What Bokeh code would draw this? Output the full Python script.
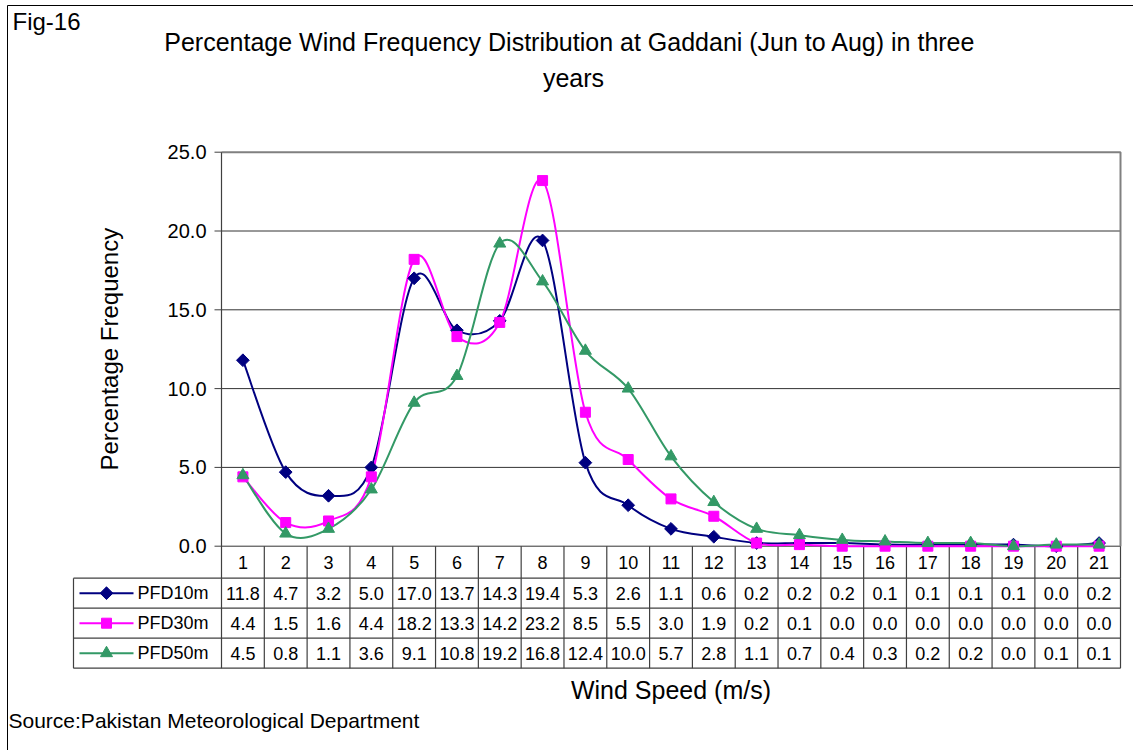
import math
from bokeh.plotting import figure
from bokeh.models import Range1d
from bokeh.core.properties import value
from bokeh.embed import file_html
from bokeh.resources import INLINE

# ---------------- data ----------------
speeds = list(range(1, 22))
speed_labels = [str(s) for s in speeds]
pfd10 = [11.8, 4.7, 3.2, 5.0, 17.0, 13.7, 14.3, 19.4, 5.3, 2.6, 1.1, 0.6, 0.2, 0.2, 0.2, 0.1, 0.1, 0.1, 0.1, 0.0, 0.2]
pfd30 = [4.4, 1.5, 1.6, 4.4, 18.2, 13.3, 14.2, 23.2, 8.5, 5.5, 3.0, 1.9, 0.2, 0.1, 0.0, 0.0, 0.0, 0.0, 0.0, 0.0, 0.0]
pfd50 = [4.5, 0.8, 1.1, 3.6, 9.1, 10.8, 19.2, 16.8, 12.4, 10.0, 5.7, 2.8, 1.1, 0.7, 0.4, 0.3, 0.2, 0.2, 0.0, 0.1, 0.1]
series_names = ["PFD10m", "PFD30m", "PFD50m"]
y_ticks = [0, 5, 10, 15, 20, 25]
y_tick_labels = ["%.1f" % t for t in y_ticks]

fig_label = "Fig-16"
title_line1 = "Percentage Wind Frequency Distribution at Gaddani (Jun  to Aug) in three"
title_line2 = "years"
y_title = "Percentage Frequency"
x_title = "Wind Speed (m/s)"
source_text = "Source:Pakistan Meteorological Department"

# ---------------- layout / styles ----------------
FONT = "Liberation Sans"
colors = ["#000080", "#FF00FF", "#339966"]
markers = ["square", "square", "triangle"]
angles = [math.pi / 4, 0, 0]
msizes = [9, 10, 12]
GRID = "#333333"
TABLE = "#404040"

W, H = 1133, 750
PLOT_L, PLOT_R = 221.0, 1120.0      # plot area, page px
PLOT_T, PLOT_B = 151.7, 545.7
PXU = (PLOT_R - PLOT_L) / len(speeds)
PYU = (PLOT_B - PLOT_T) / y_ticks[-1]
HEADER_B = 577.7
ROW_H = 30.0
LEG_L = 73.0


def X(px):
    return 0.5 + (px - PLOT_L) / PXU


def Y(py):
    return (PLOT_B - py) / PYU


x_lo, x_hi = 0.5, len(speeds) + 0.5

p = figure(width=W, height=H, x_range=Range1d(X(0), X(W)), y_range=Range1d(Y(H), Y(0)),
           x_axis_type=None, y_axis_type=None, title=None,
           output_backend="svg", toolbar_location=None,
           min_border_left=0, min_border_right=0, min_border_top=0, min_border_bottom=0)
p.outline_line_color = None
p.xgrid.visible = False
p.ygrid.visible = False
p.background_fill_color = "white"
p.border_fill_color = "white"

# outer chart frame (left and top edges visible)
p.segment(x0=[X(7), X(7)], y0=[Y(5), Y(5)], x1=[X(7), X(W)], y1=[Y(H), Y(5)],
          line_color="black", line_width=1)

# texts: figure id and title
p.text(x=[X(12)], y=[Y(20.5)], text=[fig_label], text_font=value(FONT), text_font_size="24px",
       text_color="black", text_align="left", text_baseline="middle")
p.text(x=[X(573), X(573)], y=[Y(41), Y(77)], text=[title_line1, title_line2],
       text_font=value(FONT), text_font_size="25px", text_color="black",
       text_align="center", text_baseline="middle")

# y axis: grid, ticks, labels, axis line, title
p.segment(x0=[x_lo] * (len(y_ticks) - 1), y0=y_ticks[:-1], x1=[x_hi] * (len(y_ticks) - 1), y1=y_ticks[:-1],
          line_color=GRID, line_width=1)
p.line([x_lo, x_hi, x_hi], [y_ticks[-1], y_ticks[-1], y_ticks[0]], line_color="#808080", line_width=2)
p.segment(x0=[X(PLOT_L - 7)] * len(y_ticks), y0=y_ticks, x1=[x_lo] * len(y_ticks), y1=y_ticks,
          line_color=TABLE, line_width=1)
p.segment(x0=[x_lo], y0=[Y(HEADER_B)], x1=[x_lo], y1=[y_ticks[-1]], line_color=TABLE, line_width=1.2)
p.text(x=[X(PLOT_L - 15)] * len(y_ticks), y=y_ticks, text=y_tick_labels,
       text_font=value(FONT), text_font_size="20px", text_color="black",
       text_align="right", text_baseline="middle")
p.text(x=[X(109)], y=[(y_ticks[0] + y_ticks[-1]) / 2], text=[y_title], angle=math.pi / 2,
       text_font=value(FONT), text_font_size="24px", text_color="black",
       text_align="center", text_baseline="middle")

# header row with wind-speed categories
seps = [s + 0.5 for s in speeds]
p.segment(x0=seps, y0=[Y(HEADER_B)] * len(seps), x1=seps, y1=[0] * len(seps),
          line_color=TABLE, line_width=1.2)
p.text(x=speeds, y=[Y((PLOT_B + HEADER_B) / 2)] * len(speeds), text=speed_labels,
       text_font=value(FONT), text_font_size="18px", text_color="black",
       text_align="center", text_baseline="middle")

# data table
row_lines = [HEADER_B + ROW_H * k for k in range(4)]
p.segment(x0=[X(LEG_L)] * 4, y0=[Y(v) for v in row_lines], x1=[x_hi] * 4, y1=[Y(v) for v in row_lines],
          line_color=TABLE, line_width=1.2)
vx = [X(LEG_L), x_lo] + seps
p.segment(x0=vx, y0=[Y(row_lines[0])] * len(vx), x1=vx, y1=[Y(row_lines[-1])] * len(vx),
          line_color=TABLE, line_width=1.2)

all_series = [pfd10, pfd30, pfd50]
for r, (name, ys, c, m, ang, ms) in enumerate(zip(series_names, all_series, colors, markers, angles, msizes)):
    yrow = Y(HEADER_B + ROW_H * (r + 0.5))
    p.text(x=speeds, y=[yrow] * len(speeds), text=["%.1f" % v for v in ys],
           text_font=value(FONT), text_font_size="18px", text_color="black",
           text_align="center", text_baseline="middle")
    p.line([X(LEG_L + 6), X(LEG_L + 60)], [yrow, yrow], line_color=c, line_width=2)
    p.scatter([X(LEG_L + 33)], [yrow], marker=m, angle=ang, size=ms, fill_color=c, line_color=c)
    p.text(x=[X(LEG_L + 64)], y=[yrow], text=[name], text_font=value(FONT), text_font_size="18px",
           text_color="black", text_align="left", text_baseline="middle")


def smooth(xs, ys):
    n = len(xs)
    out = {k: [] for k in ["x0", "y0", "x1", "y1", "cx0", "cy0", "cx1", "cy1"]}
    for i in range(n - 1):
        a = i - 1 if i > 0 else i
        d = i + 2 if i + 2 < n else i + 1
        out["x0"].append(xs[i]); out["y0"].append(ys[i])
        out["x1"].append(xs[i + 1]); out["y1"].append(ys[i + 1])
        out["cx0"].append(xs[i] + (xs[i + 1] - xs[a]) / 6)
        out["cy0"].append(ys[i] + (ys[i + 1] - ys[a]) / 6)
        out["cx1"].append(xs[i + 1] - (xs[d] - xs[i]) / 6)
        out["cy1"].append(ys[i + 1] - (ys[d] - ys[i]) / 6)
    return out


for ys, c in zip(all_series, colors):
    s = smooth(speeds, ys)
    p.bezier(x0=s["x0"], y0=s["y0"], x1=s["x1"], y1=s["y1"],
             cx0=s["cx0"], cy0=s["cy0"], cx1=s["cx1"], cy1=s["cy1"],
             line_color=c, line_width=2)
for ys, c, m, ang, ms in zip(all_series, colors, markers, angles, msizes):
    p.scatter(speeds, ys, marker=m, angle=ang, size=ms, fill_color=c, line_color=c)

# x title and source
p.text(x=[(x_lo + x_hi) / 2], y=[Y(689)], text=[x_title], text_font=value(FONT), text_font_size="25px",
       text_color="black", text_align="center", text_baseline="middle")
p.text(x=[X(8)], y=[Y(720)], text=[source_text], text_font=value(FONT), text_font_size="21px",
       text_color="black", text_align="left", text_baseline="middle")

with open("out.html", "w") as f:
    f.write(file_html(p, INLINE))
